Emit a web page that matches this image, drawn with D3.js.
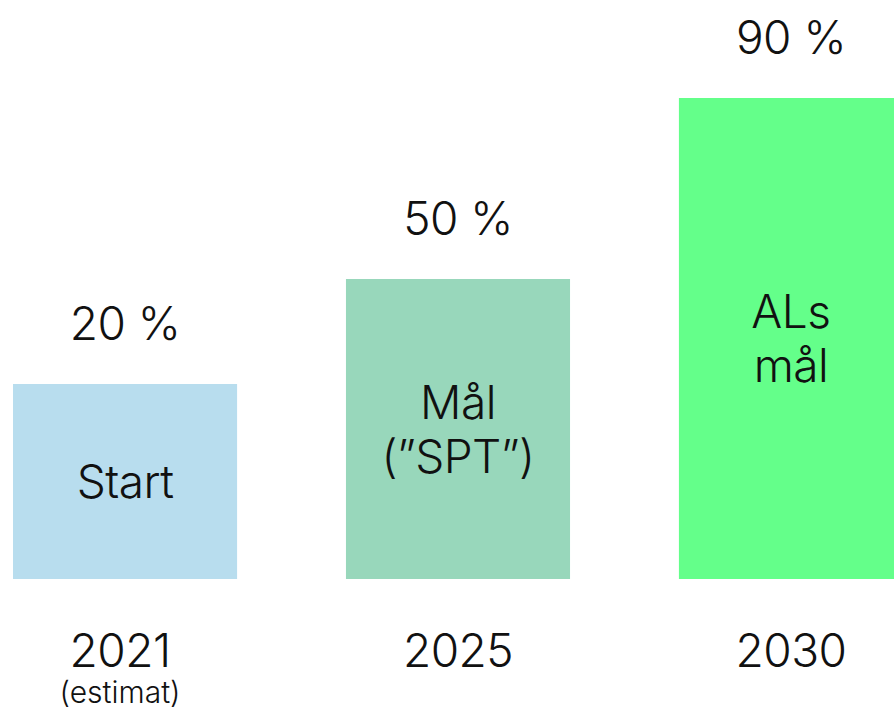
<!DOCTYPE html>
<html>
<head>
<meta charset="utf-8">
<script src="https://cdn.jsdelivr.net/npm/d3@7"></script>
<style>
  html, body { margin: 0; padding: 0; background: #fff; }
  svg { display: block; }
  text { font-family: Inter, "Open Sans", sans-serif; fill: #111; font-weight: 300; }
</style>
</head>
<body>
<svg id="chart" width="894" height="714"></svg>
<script>
const years = ["2021", "2025", "2030"];
const yearNotes = ["(estimat)", "", ""];
const values = [20, 50, 90];
const valueLabels = ["20 %", "50 %", "90 %"];
const barLabels = [["Start"], ["Mål", "(”SPT”)"], ["ALs", "mål"]];
const colors = ["#b8ddee", "#98d7bb", "#64ff8a"];

const W = 894, H = 714;
const svg = d3.select("#chart");

const x = d3.scaleBand().domain(years).range([13, 903]).paddingInner(0.327).paddingOuter(0);
// bar heights in the reference are not proportional to the values: piecewise scale
const y = d3.scaleLinear().domain([0, 20, 50, 90]).range([579, 384, 279, 98]);

const data = years.map((yr, i) => ({
  year: yr, note: yearNotes[i], value: values[i], label: valueLabels[i],
  inner: barLabels[i], color: colors[i]
}));

const g = svg.append("g");

g.selectAll("rect.bar").data(data).join("rect")
  .attr("class", "bar")
  .attr("x", d => x(d.year))
  .attr("y", d => y(d.value))
  .attr("width", x.bandwidth())
  .attr("height", d => y(0) - y(d.value))
  .attr("fill", d => d.color);

// value labels above bars
g.selectAll("text.val").data(data).join("text")
  .attr("class", "val")
  .attr("x", d => x(d.year) + x.bandwidth() / 2)
  .attr("y", d => y(d.value) - 44)
  .attr("text-anchor", "middle")
  .style("font-size", "46px")
  .style("letter-spacing", "-0.5px")
  .text(d => d.label);

// inner labels, vertically centred in bar
const lineH = 54, cap = 33;
g.selectAll("text.inner").data(data).join("text")
  .attr("class", "inner")
  .attr("text-anchor", "middle")
  .style("font-size", "46px")
  .style("letter-spacing", "-0.5px")
  .each(function(d) {
    const cx = x(d.year) + x.bandwidth() / 2;
    const cy = (y(d.value) + y(0)) / 2;
    const n = d.inner.length;
    const blockH = cap + (n - 1) * lineH;
    const firstBase = cy - blockH / 2 + cap;
    d3.select(this).selectAll("tspan").data(d.inner).join("tspan")
      .attr("x", cx)
      .attr("y", (t, j) => firstBase + j * lineH)
      .text(t => t);
  });

// category axis labels
g.selectAll("text.year").data(data).join("text")
  .attr("class", "year")
  .attr("x", d => x(d.year) + x.bandwidth() / 2 - (d.note ? 5 : 0))
  .attr("y", y(0) + 88)
  .attr("text-anchor", "middle")
  .style("font-size", "46px")
  .style("letter-spacing", "-0.5px")
  .text(d => d.year);

g.selectAll("text.note").data(data.filter(d => d.note)).join("text")
  .attr("class", "note")
  .attr("x", d => x(d.year) + x.bandwidth() / 2 - 5)
  .attr("y", y(0) + 124)
  .attr("text-anchor", "middle")
  .style("font-size", "30px")
  .text(d => d.note);
</script>
</body>
</html>
